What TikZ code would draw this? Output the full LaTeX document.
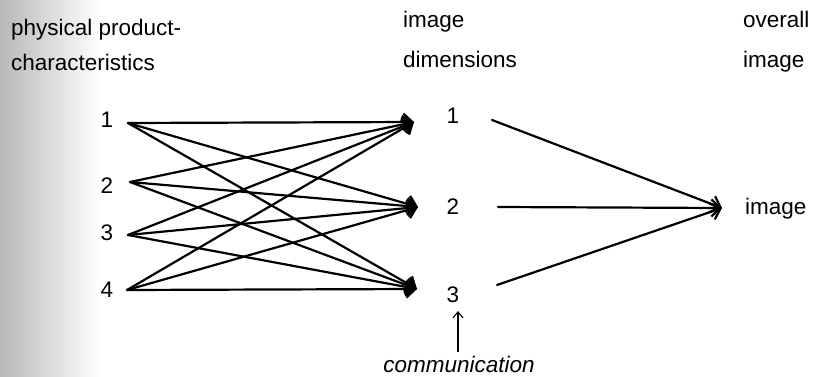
\documentclass[tikz,border=0pt]{standalone}
\usepackage{fontspec}
\setmainfont{Liberation Sans}
\usetikzlibrary{arrows.meta}
\begin{document}
\begin{tikzpicture}[x=1pt,y=-1pt,
  lbl/.style={anchor=base west,inner sep=0pt,font=\fontsize{22.5}{26}\selectfont},
  num/.style={anchor=base,inner sep=0pt,font=\fontsize{22.5}{26}\selectfont},
  link/.style={line width=2.2pt,line cap=round,-{Straight Barb[length=9pt,width=17pt,line width=2.2pt]}},
  thin link/.style={line width=1.1pt,-{Straight Barb[length=6pt,width=10pt,line width=1.1pt]}}
]
\useasboundingbox (0,0) rectangle (816,377);
\fill[left color=black!28,right color=white] (0,0) rectangle (100,377);
% headers
\node[lbl] (h1a) at (11,36) {physical product-};
\node[lbl] (h1b) at (11,71) {characteristics};
\node[lbl] (h2a) at (403,28) {image};
\node[lbl] (h2b) at (403,68) {dimensions};
\node[lbl] (h3a) at (743,28) {overall};
\node[lbl] (h3b) at (743,68) {image};
% left numbers
\node[num] (p1) at (107,128) {1};
\node[num] (p2) at (107,193) {2};
\node[num] (p3) at (107,240) {3};
\node[num] (p4) at (107,297) {4};
% middle numbers
\node[num] (d1) at (453,124) {1};
\node[num] (d2) at (453,214) {2};
\node[num] (d3) at (453,302) {3};
% right
\node[lbl] (img) at (745,214) {image};
\node[num,font=\fontsize{22.5}{26}\selectfont\itshape] (comm) at (459,372) {communication};
% anchor coordinates
\coordinate (s1) at (128,123);
\coordinate (s2) at (130,182);
\coordinate (s3) at (128,235);
\coordinate (s4) at (127,290);
\coordinate (e1) at (414,122);
\coordinate (e2) at (418,207);
\coordinate (e3) at (417,289);
\coordinate (r1) at (492,120);
\coordinate (r2) at (498,207);
\coordinate (r3) at (497,285);
\coordinate (t) at (722,208);
\coordinate (cb) at (458,352);
\coordinate (ct) at (458,311);
% links
\foreach \i in {1,2,3,4}{
  \foreach \j in {1,2,3}{
    \draw[link] (s\i) -- (e\j);
  }
}
\foreach \j in {1,2,3}{
  \draw[link] (r\j) -- (t);
}
\draw[thin link] (cb) -- (ct);
\end{tikzpicture}
\end{document}
